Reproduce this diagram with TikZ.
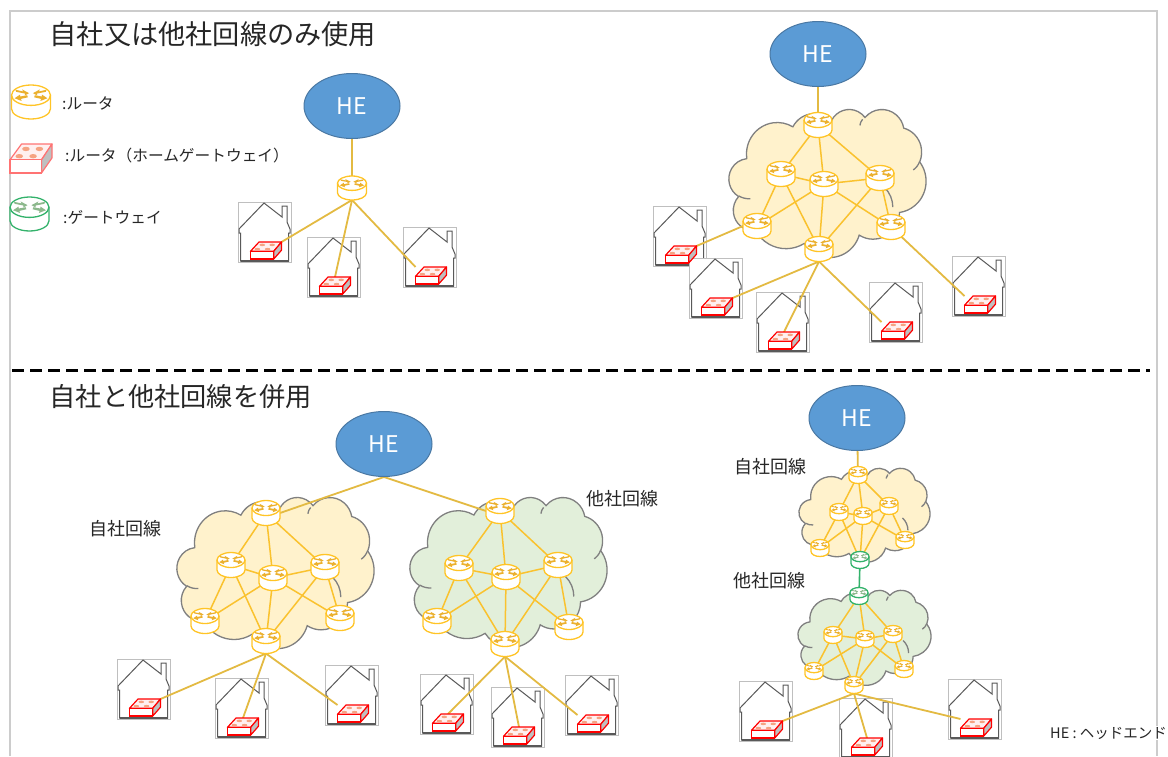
\documentclass[tikz,border=0pt]{standalone}
\usepackage{fontspec}
\setmainfont{Noto Sans CJK JP}
\usetikzlibrary{shapes.geometric}
\newlength{\du}
\setlength{\du}{1pt}
\definecolor{rtrline}{rgb}{1.000000, 0.770000, 0.150000}
\definecolor{rtrmark}{rgb}{0.920000, 0.690000, 0.180000}
\definecolor{gwline}{rgb}{0.200000, 0.700000, 0.420000}
\definecolor{gwmark}{rgb}{0.550000, 0.720000, 0.550000}
\definecolor{wireline}{rgb}{0.980000, 0.760000, 0.180000}
\definecolor{upline}{rgb}{0.890000, 0.730000, 0.260000}
\definecolor{hefill}{rgb}{0.357000, 0.608000, 0.835000}
\definecolor{heline}{rgb}{0.290000, 0.470000, 0.640000}
\definecolor{cldyellow}{rgb}{1.000000, 0.949000, 0.800000}
\definecolor{cldgreen}{rgb}{0.886000, 0.937000, 0.855000}
\definecolor{blobcolor}{rgb}{0.960000, 0.640000, 0.510000}
\pgfdeclarelayer{back}
\pgfdeclarelayer{wires}
\pgfsetlayers{back,wires,main}
\tikzset{
  hebox/.style={ellipse,draw=heline,fill=hefill,line width=1\du,minimum width=96\du,minimum height=65\du,inner sep=0pt,text=white,font=\fontsize{23}{23}\selectfont},
  rtrbox/.style={inner sep=0pt,outer sep=0pt},
  wire/.style={draw=wireline,line width=1.5\du},
  upwire/.style={draw=upline,line width=1.8\du},
  gwwire/.style={draw=gwline,line width=1.6\du},
  cldline/.style={draw=black!50,line width=1.3\du},
  housebox/.style={draw=black!25,fill=white,line width=1\du},
  houseline/.style={draw=black!65,line width=1\du,line join=miter},
  titletext/.style={anchor=west,inner sep=0pt,text=black!85},
  keytext/.style={anchor=west,inner sep=0pt,text=black!85,font=\fontsize{15.7}{16}\selectfont},
  nettext/.style={anchor=west,inner sep=0pt,text=black!85,font=\fontsize{18}{18}\selectfont}
}
% router: name, x, y, w, h
\newcommand{\router}[6][rtr]{
\node[rtrbox,minimum width=#5\du,minimum height=#6\du] (#2) at (#3,#4) {};
\begin{scope}[shift={(#2.center)},x=#5\du,y=-#6\du]
\filldraw[draw=#1line,fill=white,line width=1.3\du] (-.5,-.2) -- (-.5,.2) arc [start angle=180,delta angle=-180,x radius=.5,y radius=.3] -- (.5,-.2) arc [start angle=0,delta angle=-180,x radius=.5,y radius=.3] -- cycle;
\draw[draw=#1line,line width=1.3\du] (.5,-.2) arc [start angle=0,delta angle=180,x radius=.5,y radius=.3];
\foreach \sx in {-1,1} {
\fill[#1mark] (\sx*.40,-.36) -- (\sx*.20,-.31) -- (\sx*.23,-.37) -- (\sx*.05,-.26) -- (\sx*.16,-.19) -- (\sx*.16,-.25) -- (\sx*.38,-.30) -- cycle;
\fill[#1mark] (\sx*.10,-.20) -- (\sx*.28,-.16) -- (\sx*.28,-.22) -- (\sx*.42,-.11) -- (\sx*.24,-.03) -- (\sx*.26,-.09) -- (\sx*.08,-.14) -- cycle;
}
\end{scope}
}
% home router: name, x, y, w, h, optional stroke
\newcommand{\homegw}[6][red]{
\node[rtrbox,minimum width=#5\du,minimum height=#6\du] (#2) at (#3,#4) {};
\begin{scope}[shift={(#2.center)},x=#5\du,y=-#6\du]
\filldraw[draw=#1,fill=red!6,line width=1.2\du,line join=round] (-.5,.045) -- (-.225,-.5) -- (.5,-.5) -- (.25,.045) -- cycle;
\filldraw[draw=#1,fill=black!25,line width=1.2\du,line join=round] (.25,.045) -- (.5,-.5) -- (.5,-.02) -- (.25,.5) -- cycle;
\filldraw[draw=#1,fill=white,line width=1.2\du] (-.5,.045) rectangle (.25,.5);
\foreach \bx/\by in {-.12/-.33,.2/-.33,-.28/-.08,.05/-.08}
\fill[blobcolor] (\bx,\by) ellipse [x radius=.09,y radius=.075];
\end{scope}
}
% house with its home router: name, x, y
\newcommand{\house}[3]{
\begin{pgfonlayer}{back}
\begin{scope}[shift={(#2,#3)}]
\draw[housebox] (0,0) rectangle (53,60);
\draw[houseline] (2.5,59) -- (2.5,31) -- (1,31) -- (1,27) -- (26,1) -- (44,15) -- (44,4) -- (49,4) -- (49,20) -- (52,27) -- (52,31) -- (50.5,31) -- (50.5,59) -- cycle;
\draw[houseline,line width=1.6\du] (2.5,59) -- (50.5,59);
\end{scope}
\end{pgfonlayer}
\homegw{#1}{#2+28}{#3+48.5}{31}{17}
}
\newcommand{\cldarc}[4]{arc [x radius=#1,y radius=#2,start angle={atan2(#1*sin(#3),#2*cos(#3))},delta angle={mod(atan2(#1*sin(#3+#4),#2*cos(#3+#4))-atan2(#1*sin(#3),#2*cos(#3))+720,360)}]}
% cloud: x, y, w, h, colour
\newcommand{\cloudshape}[5]{
\pgfmathsetlengthmacro{\cldw}{#3*\du/43.2}
\pgfmathsetlengthmacro{\cldh}{#4*\du/43.2}
\begin{pgfonlayer}{back}
\begin{scope}[shift={(#1,#2)},x=\cldw,y=-\cldh]
\filldraw[cldline,fill=#5] (3.9,14.37) \cldarc{6.753}{9.19}{-190.488}{123.78} \cldarc{5.333}{7.267}{-144.102}{89.945} \cldarc{4.365}{5.945}{-145.808}{99.723} \cldarc{4.857}{6.595}{-130.986}{117.242} \cldarc{5.333}{7.273}{-78.709}{109.027} \cldarc{6.775}{9.22}{-46.267}{130.269} \cldarc{5.785}{7.867}{.625}{114.033} \cldarc{6.752}{9.215}{22.452}{115.173} \cldarc{7.72}{10.543}{66.243}{75.711} \cldarc{4.36}{5.918}{-274.942}{146.736} \cldarc{4.345}{5.945}{-246.829}{152.519} -- cycle;
\draw[cldline] (4.693,26.177) \cldarc{4.345}{5.945}{86.74}{26.43};
\draw[cldline] (34.129,22.954) \cldarc{5.785}{7.867}{-55}{55};
\draw[cldline] (41.8,15.35) to[bend left=15] (40.4,17.8);
\draw[cldline] (29.3,3) to[bend right=15] (28.7,4.8);
\end{scope}
\end{pgfonlayer}
}
% the twelve links inside a cloud
\newcommand{\netwires}[1]{
\begin{pgfonlayer}{wires}
\foreach \i/\j in {a/b,a/c,a/d,b/c,c/d,b/e,b/g,c/e,c/g,c/f,d/g,d/f}
\draw[wire] (#1\i.center) -- (#1\j.center);
\end{pgfonlayer}
}
\begin{document}
\begin{tikzpicture}[x=1\du,y=-1\du]
\useasboundingbox (0,0) rectangle (1168,756);
\draw[draw=black!20,line width=2\du] (10,756) -- (10,11) -- (1157,11) -- (1157,756);
\draw[line width=3\du,dash pattern=on 12\du off 6\du] (12,370) -- (1150,370);
% titles
\node[titletext,font=\fontsize{27.2}{27}\selectfont] (title1) at (49.5,34) {自社又は他社回線のみ使用};
\node[titletext,font=\fontsize{26.2}{27}\selectfont] (title2) at (49.5,397) {自社と他社回線を併用};
% key
\router{key1}{31}{102}{39}{34}
\homegw[red!55]{key2}{31}{158.5}{42}{29}
\router[gw]{key3}{29.5}{214}{39}{34}
\node[keytext] (keytext1) at (62,103) {:ルータ};
\node[keytext] (keytext2) at (65,156) {:ルータ（ホームゲートウェイ）};
\node[keytext] (keytext3) at (63,217) {:ゲートウェイ};
% top left
\node[hebox] (he1) at (352,106) {HE};
\router{r1}{352}{188}{29}{24}
\house{g1}{238}{202}
\house{g2}{307}{237}
\house{g3}{403}{227}
\begin{pgfonlayer}{wires}
\draw[upwire] (he1) -- (r1.center);
\draw[upwire] (r1.south) -- (g1.north east);
\draw[upwire] (r1.south) -- (g2.north);
\draw[upwire] (r1.south) -- (g3.north west);
\end{pgfonlayer}
% top right
\node[hebox] (he2) at (818,54) {HE};
\cloudshape{729}{109}{197}{148}{cldyellow}
\router{ta}{818}{125}{28}{25}
\router{tb}{781}{174}{28}{25}
\router{tc}{824}{184}{28}{25}
\router{td}{880}{178}{28}{25}
\router{te}{757}{226}{28}{25}
\router{tf}{891}{227}{28}{25}
\router{tg}{819}{249}{28}{25}
\house{tg1}{653}{206}
\house{tg2}{689}{258}
\house{tg3}{756}{292}
\house{tg4}{869}{282}
\house{tg5}{952}{256}
\netwires{t}
\begin{pgfonlayer}{wires}
\draw[upwire] (he2) -- (ta.center);
\draw[upwire] (te.west) -- (tg1.north east);
\draw[upwire] (tg.south) -- (tg2.north east);
\draw[upwire] (tg.south) -- (tg3.north);
\draw[upwire] (tg.south) -- (tg4.north west);
\draw[upwire] (tf.center) -- (tg5.north west);
\end{pgfonlayer}
% bottom left
\node[hebox] (he3) at (384,444) {HE};
\cloudshape{177}{497}{197}{151}{cldyellow}
\cloudshape{410}{497}{197}{150}{cldgreen}
\node[nettext] (own1) at (89,529) {自社回線};
\node[nettext] (other1) at (586,499) {他社回線};
\router{ua}{266}{513}{28}{25}
\router{ub}{231}{565}{28}{25}
\router{uc}{273}{578}{28}{25}
\router{ud}{325}{567}{28}{25}
\router{ue}{205}{621}{28}{25}
\router{uf}{340}{618}{28}{25}
\router{ug}{266}{641}{28}{25}
\house{ug1}{117}{659}
\house{ug2}{215}{678}
\house{ug3}{325}{665}
\netwires{u}
\router{va}{500}{511}{28}{25}
\router{vb}{459}{568}{28}{25}
\router{vc}{506}{577}{28}{25}
\router{vd}{558}{565}{28}{25}
\router{ve}{437}{621}{28}{25}
\router{vf}{569}{627}{28}{25}
\router{vg}{505}{644}{28}{25}
\house{vg1}{420}{674}
\house{vg2}{491}{687}
\house{vg3}{565}{675}
\netwires{v}
\begin{pgfonlayer}{wires}
\draw[upwire] (he3.south) -- (ua.east);
\draw[upwire] (he3.south) -- (va.west);
\draw[upwire] (ug.south) -- (ug1.north east);
\draw[upwire] (ug.south) -- (ug2.north);
\draw[upwire] (ug.south) -- (ug3.north west);
\draw[upwire] (vg.south) -- (vg1.north);
\draw[upwire] (vg.south) -- (vg2.north);
\draw[upwire] (vg.south) -- (vg3.north west);
\end{pgfonlayer}
% bottom right
\node[hebox] (he4) at (857,418) {HE};
\node[nettext] (own2) at (734,467) {自社回線};
\node[nettext] (other2) at (733,581) {他社回線};
\cloudshape{799}{468}{131}{94}{cldyellow}
\cloudshape{798}{590}{133}{95}{cldgreen}
\router{pa}{858}{475}{18}{17}
\router{pb}{839}{512}{18}{17}
\router{pc}{863}{516}{18}{17}
\router{pd}{889}{506}{18}{17}
\router{pe}{820}{548}{18}{17}
\router{pf}{905}{540}{18}{17}
\router[gw]{pg}{860}{560}{18}{17}
\netwires{p}
\router[gw]{qa}{859}{596}{18}{17}
\router{qb}{833}{635}{18}{17}
\router{qc}{865}{639}{18}{17}
\router{qd}{893}{634}{18}{17}
\router{qe}{814}{671}{18}{17}
\router{qf}{904}{669}{18}{17}
\router{qg}{854}{685}{18}{17}
\house{qg1}{739}{681}
\house{qg2}{839}{698}
\house{qg3}{948}{679}
\netwires{q}
\begin{pgfonlayer}{wires}
\draw[upwire] (he4) -- (pa.center);
\draw[gwwire] (pg.center) -- (qa.center);
\draw[upwire] (qg.south) -- (qg1.north east);
\draw[upwire] (qg.south) -- (qg2.north);
\draw[upwire] (qg.south) -- (qg3.north west);
\end{pgfonlayer}
\node[anchor=west,fill=white,inner sep=1\du,text=black!85,font=\fontsize{14.5}{14}\selectfont] (hekey) at (1049,733) {HE : ヘッドエンド};
\end{tikzpicture}
\end{document}
